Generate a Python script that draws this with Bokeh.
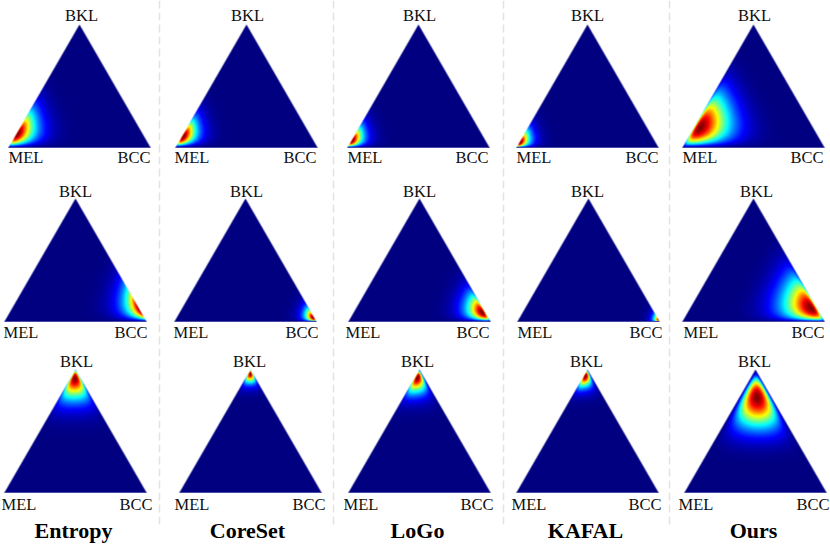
from bokeh.plotting import figure
from bokeh.models import ColumnDataSource, Range1d
from bokeh.core.properties import value
from bokeh.embed import file_html
from bokeh.resources import INLINE
import numpy as np

W = 830
H = 545

methods = ["Entropy", "CoreSet", "LoGo", "KAFAL", "Ours"]
corners = ["MEL", "BKL", "BCC"]

# Dirichlet concentration, one row per dominant class
alpha_mel = [[10.6, 15.4, 19.0, 21.0, 6.4],
             [1.0, 1.2, 1.28, 1.05, 1.3],
             [1.44, 1.55, 1.8, 2.0, 1.9]]
alpha_bkl = [[2.2, 2.4, 2.08, 1.9, 2.1],
             [2.1, 1.8, 2.02, 1.4, 1.8],
             [11.2, 29.0, 16.9, 24.6, 7.8]]
alpha_bcc = [[1.12, 1.18, 1.13, 1.12, 1.3],
             [10.9, 26.0, 13.7, 38.0, 7.2],
             [1.36, 1.45, 1.32, 1.3, 2.1]]

# layout, in page pixels
tri_left = [[8, 175, 347, 516, 682],
            [4, 174, 348, 517, 682],
            [4, 179, 348, 516, 684]]
tri_top = [24, 198, 369]
tri_base = [147, 321, 492]
tri_w = 142
bkl_x = [[81, 247, 419, 587, 754],
         [75, 246, 419, 587, 756],
         [76, 249, 417, 586, 754]]
mel_x = [[8, 174, 347, 516, 682],
         [3, 173, 345, 517, 683],
         [1, 174, 343, 511, 678]]
bcc_x = [[150, 316, 488, 658, 823],
         [147, 318, 489, 662, 824],
         [152, 325, 493, 661, 829]]
bkl_base = [21, 197, 367]
low_base = [163, 338, 510]
title_x = [73, 247, 417, 585, 753]
title_base = 538
sep_x = [159, 333, 503, 669]
sep_end = 527

jet_pos = [0.0, 0.11, 0.125, 0.375, 0.625, 0.875, 1.0]
jet_r = [0, 0, 0, 0, 255, 255, 128]
jet_g = [0, 0, 0, 255, 255, 0, 0]
jet_b = [128, 240, 255, 255, 0, 0, 0]


def panel_image(a_mel, a_bkl, a_bcc, w, h):
    # density on the simplex, normalised to its own peak
    ss = 4
    xs = (np.arange(w * ss) + 0.5) / (w * ss)
    ys = (np.arange(h * ss) + 0.5) / (h * ss)  # 0 at base
    xx, yy = np.meshgrid(xs, ys)
    bkl = yy
    bcc = xx - yy / 2
    mel = 1 - bcc - bkl
    inside = (bkl >= 0) & (bcc >= 0) & (mel >= 0)
    eps = 1e-5
    log_d = ((a_mel - 1) * np.log(np.clip(mel, eps, 1))
             + (a_bkl - 1) * np.log(np.clip(bkl, eps, 1))
             + (a_bcc - 1) * np.log(np.clip(bcc, eps, 1)))
    d = np.exp(log_d - log_d[inside].max()) * inside
    cnt = inside.reshape(h, ss, w, ss).sum(axis=(1, 3))
    d = d.reshape(h, ss, w, ss).sum(axis=(1, 3)) / np.maximum(cnt, 1)
    cover = cnt / (ss * ss)
    d = d / d.max()
    rgba = np.zeros((h, w), dtype=np.uint32)
    view = rgba.view(dtype=np.uint8).reshape((h, w, 4))
    view[:, :, 0] = np.interp(d, jet_pos, jet_r)
    view[:, :, 1] = np.interp(d, jet_pos, jet_g)
    view[:, :, 2] = np.interp(d, jet_pos, jet_b)
    view[:, :, 3] = (cover * 255).astype(np.uint8)
    return rgba


p = figure(width=W, height=H, x_range=Range1d(0, W), y_range=Range1d(0, H),
           output_backend="svg", toolbar_location=None, min_border=0)
p.axis.visible = False
p.grid.visible = False
p.outline_line_color = None
p.background_fill_color = "white"

for x in sep_x:
    p.line([x, x], [H, H - sep_end], line_color="#e3e3e3", line_width=1.5, line_dash="8 4")

for r in range(3):
    for c in range(5):
        h = tri_base[r] - tri_top[r]
        img = panel_image(alpha_mel[r][c], alpha_bkl[r][c], alpha_bcc[r][c], tri_w, h)
        p.image_rgba(image=[img], x=tri_left[r][c], y=H - tri_base[r], dw=tri_w, dh=h)
        p.line([tri_left[r][c], tri_left[r][c] + tri_w], [H - tri_base[r], H - tri_base[r]],
               line_color="#4848a8", line_width=1)

serif = value("Liberation Serif")

for r in range(3):
    src = ColumnDataSource(data=dict(x=bkl_x[r], y=[H - bkl_base[r]] * 5, t=[corners[1]] * 5))
    p.text(x="x", y="y", text="t", source=src, text_font=serif, text_font_size="16.5px", y_offset=-6,
           text_align="center", text_baseline="alphabetic", text_color="#111111")
    src = ColumnDataSource(data=dict(x=mel_x[r], y=[H - low_base[r]] * 5, t=[corners[0]] * 5))
    p.text(x="x", y="y", text="t", source=src, text_font=serif, text_font_size="16.5px", y_offset=-6,
           text_align="left", text_baseline="alphabetic", text_color="#111111")
    src = ColumnDataSource(data=dict(x=bcc_x[r], y=[H - low_base[r]] * 5, t=[corners[2]] * 5))
    p.text(x="x", y="y", text="t", source=src, text_font=serif, text_font_size="16.5px", y_offset=-6,
           text_align="right", text_baseline="alphabetic", text_color="#111111")

src = ColumnDataSource(data=dict(x=title_x, y=[H - title_base] * 5, t=methods))
p.text(x="x", y="y", text="t", source=src, text_font=serif, text_font_size="22px", y_offset=-8,
       text_font_style="bold", text_align="center", text_baseline="alphabetic", text_color="black")

open("out.html", "w").write(file_html(p, INLINE))
